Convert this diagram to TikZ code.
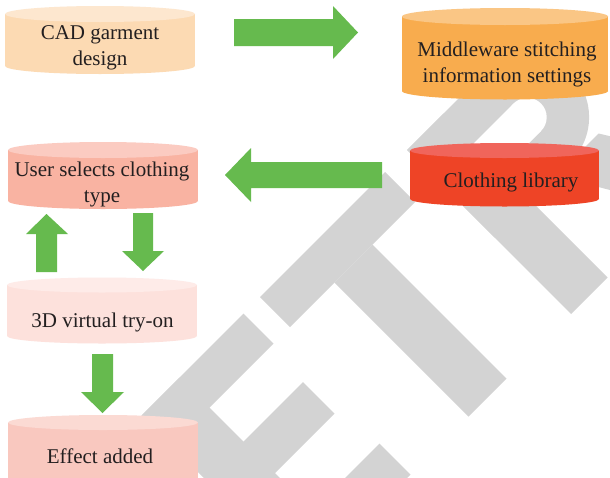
\documentclass[tikz,border=0pt]{standalone}
\usepackage{fontspec}
\setmainfont{Liberation Serif}
\definecolor{wmgray}{HTML}{D3D3D3}
\definecolor{arrgreen}{HTML}{66BA4E}
\definecolor{txt}{HTML}{231F20}
\definecolor{cadB}{HTML}{FCDAB3}\definecolor{cadT}{HTML}{FDE7CF}
\definecolor{midB}{HTML}{F8AC4E}\definecolor{midT}{HTML}{FAC685}
\definecolor{usrB}{HTML}{F9B3A2}\definecolor{usrT}{HTML}{FBCBC1}
\definecolor{libB}{HTML}{EE4426}\definecolor{libT}{HTML}{F0655B}
\definecolor{vtB}{HTML}{FDE1DC}\definecolor{vtT}{HTML}{FEEBE8}
\definecolor{effB}{HTML}{F9C8BF}\definecolor{effT}{HTML}{FBDAD3}
\newcommand\cylshape[7]{%
  \fill[#6] (#1,#3) rectangle (#2,#4);
  \fill[#6] ({(#1+#2)/2},#4) ellipse [x radius={(#2-#1)/2}, y radius=#5];
  \fill[#7] ({(#1+#2)/2},#3) ellipse [x radius={(#2-#1)/2}, y radius=#5];
}
\begin{document}
\begin{tikzpicture}[x=1pt,y=-1pt,
  wm/.style={fill=wmgray},
  garrow/.style={fill=arrgreen},
  lbl/.style={font=\fontsize{21}{26}\selectfont, text=txt, align=center, inner sep=0pt}]
\useasboundingbox (0,0) rectangle (610,477);
\fill[white] (0,0) rectangle (610,477);
% watermark (rotated letters)
\begin{scope}[cm={0.5,0.5,-0.5,0.5,(0,0)}]
  % E
  \fill[wm] (-274,557) -- (-198,557) -- (-198,885) -- (-274,885) -- cycle;
  \fill[wm] (-274,557) -- (-70,557) -- (-70,617) -- (-274,617) -- cycle;
  \fill[wm] (-274,685) -- (-79,685) -- (-79,748) -- (-274,748) -- cycle;
  \fill[wm] (-274,823) -- (-64,823) -- (-64,885) -- (-274,885) -- cycle;
  % T
  \fill[wm] (-37,557) -- (213,557) -- (213,617) -- (-37,617) -- cycle;
  \fill[wm] (52,617) -- (128,617) -- (128,885) -- (52,885) -- cycle;
  % R
  \fill[wm] (257,557) -- (330,557) -- (330,885) -- (257,885) -- cycle;
  \fill[wm] (257,557) -- (410,557) -- (410,732) -- (257,732) -- cycle;
  \fill[wm] (410,644.5) circle [radius=87.5];
  \fill[wm] (380,732) -- (465,732) -- (560,885) -- (470,885) -- cycle;
  \fill[white] (330,617) -- (410,617) -- (410,672) -- (330,672) -- cycle;
  \fill[white] (410,644.5) circle [radius=27.5];
\end{scope}
% cylinders
\cylshape{5}{195}{14}{66}{8}{cadB}{cadT}
\cylshape{402}{608}{16.5}{91}{8.5}{midB}{midT}
\cylshape{8}{198}{150}{201}{8}{usrB}{usrT}
\cylshape{410}{599}{150.5}{199}{7.5}{libB}{libT}
\cylshape{7}{197}{285}{336}{7.5}{vtB}{vtT}
\cylshape{8}{198}{422.5}{490}{7.5}{effB}{effT}
% labels
\node[lbl] (cad) at (100,48) {CAD garment\\design};
\node[lbl] (mid) at (507,64) {Middleware stitching\\information settings};
\node[lbl] (usr) at (102,184.5) {User selects clothing\\type};
\node[lbl] (lib) at (511,182) {Clothing library};
\node[lbl] (vt) at (102.5,322) {3D virtual try-on};
\node[lbl] (eff) at (100,456) {Effect added};
% block arrows
\fill[garrow] (234,19) -- (333,19) -- (333,6) -- (358,32.5) -- (333,59) -- (333,46) -- (234,46) -- cycle;
\fill[garrow] (382,162) -- (251,162) -- (251,148) -- (225,175) -- (251,202) -- (251,188) -- (382,188) -- cycle;
\fill[garrow] (36,272) -- (36,234) -- (26,234) -- (46.5,214) -- (68,234) -- (57,234) -- (57,272) -- cycle;
\fill[garrow] (133,213) -- (153,213) -- (153,251) -- (164,251) -- (143,271) -- (122,251) -- (133,251) -- cycle;
\fill[garrow] (92,354) -- (113,354) -- (113,392) -- (124,392) -- (102.5,413) -- (81,392) -- (92,392) -- cycle;
\end{tikzpicture}
\end{document}
